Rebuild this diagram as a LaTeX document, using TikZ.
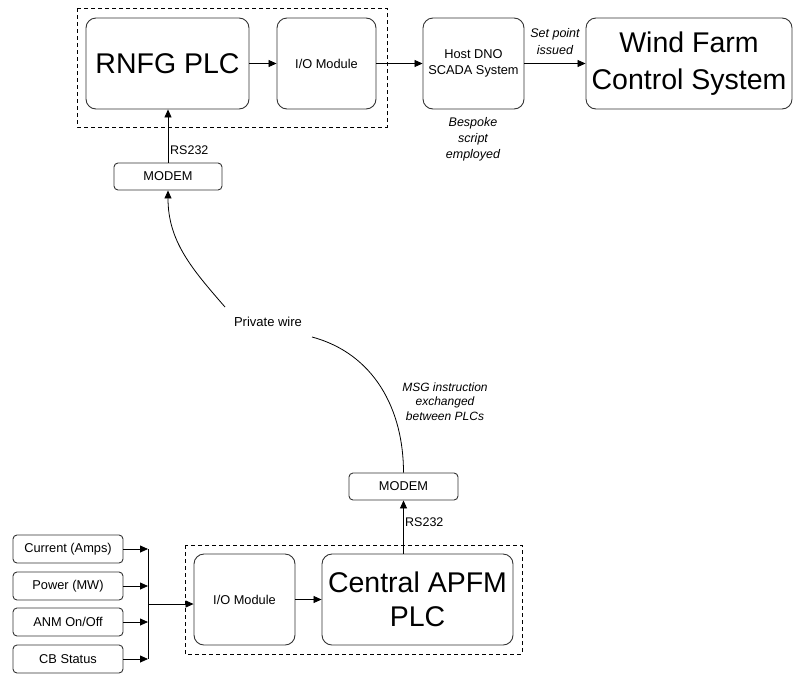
\documentclass[tikz,border=0pt]{standalone}
\usepackage{fontspec}
\setmainfont{Liberation Sans}
\usetikzlibrary{arrows.meta}

\tikzset{
  box/.style={draw=black!80, line width=0.9pt, rounded corners=10pt, align=center,
    inner sep=2pt, font=\fontsize{12.8}{16}\selectfont},
  bigbox/.style={box, font=\fontsize{28.5}{37}\selectfont},
  smallbox/.style={box, rounded corners=4pt, minimum height=27pt},
  group/.style={draw=black, line width=0.8pt, dash pattern=on 4pt off 3pt},
  link/.style={draw=black, line width=0.8pt, -{Triangle[length=8pt,width=7pt]}},
  plain/.style={draw=black, line width=0.8pt},
  lbl/.style={font=\fontsize{12.5}{16}\selectfont, align=center, inner sep=0pt},
  ilbl/.style={lbl, font=\fontsize{12.5}{16}\selectfont\itshape},
}

\begin{document}
\begin{tikzpicture}[x=1pt, y=-1pt]
\useasboundingbox (0,0) rectangle (794,675);

% ---------- upper group: RNFG controller ----------
\draw[group] (77,8) rectangle (387,127);
\node[bigbox, minimum width=163pt, minimum height=91pt] (rnfg) at (167.5,63.5) {RNFG PLC};
\node[box, minimum width=99pt, minimum height=91pt] (io1) at (326.5,63.5) {I/O Module};
\node[box, minimum width=101pt, minimum height=91pt] (host) at (473.5,63.5) {Host DNO\\SCADA System};
\node[bigbox, minimum width=206pt, minimum height=91pt] (wf) at (689,63.5) {Wind Farm\\Control System};

\draw[link] (rnfg) -- (io1);
\draw[link] (io1) -- (host);
\draw[link] (host) -- (wf);

\node[ilbl, font=\fontsize{12.5}{17}\selectfont\itshape] (setpt) at (555,41.5) {Set point\\issued};
\node[ilbl] (bespoke) at (473,139) {Bespoke\\script\\employed};

% ---------- upper modem ----------
\node[smallbox, minimum width=108pt] (tmodem) at (168,176.5) {MODEM};
\draw[link] (tmodem.north) -- (tmodem.north |- rnfg.south);
\node[lbl, anchor=west] (rs1) at (170,150) {RS232};

% ---------- private wire ----------
\node[lbl, font=\fontsize{13}{16}\selectfont] (pw) at (268,322) {Private wire};
\coordinate (pwA) at (225,307);
\coordinate (pwB) at (312,337);

\node[ilbl, font=\fontsize{12}{14.5}\selectfont\itshape] (msg) at (445,401.5) {MSG instruction\\exchanged\\between PLCs};

% ---------- lower modem ----------
\node[smallbox, minimum width=109pt] (bmodem) at (403.5,486.5) {MODEM};

\draw[plain] (bmodem.north) to[out=90, in=-15] (pwB);
\draw[link] (pwA) to[out=131, in=-90] (tmodem.south);

% ---------- lower group: central controller ----------
\draw[group] (185,545) rectangle (522,654);
\node[box, minimum width=101pt, minimum height=91pt] (io2) at (244.5,599.5) {I/O Module};
\node[bigbox, font=\fontsize{28.5}{34}\selectfont, minimum width=191pt, minimum height=91pt] (central) at (417.5,599.5) {Central APFM\\PLC};

\draw[link] (io2) -- (central);
\draw[link] (bmodem.south |- central.north) -- (bmodem.south);
\node[lbl, anchor=west] (rs2) at (405,522) {RS232};

% ---------- measured inputs ----------
\node[smallbox, minimum width=110pt, minimum height=28pt] (in1) at (68,549) {Current (Amps)};
\node[smallbox, minimum width=110pt, minimum height=28pt] (in2) at (68,586) {Power (MW)};
\node[smallbox, minimum width=110pt, minimum height=28pt] (in3) at (68,622) {ANM On/Off};
\node[smallbox, minimum width=110pt, minimum height=28pt] (in4) at (68,659) {CB Status};

\coordinate (busx) at (148,0);
\coordinate (busjoin) at (148,604);
\foreach \n in {in1,in2,in3,in4}
  \draw[link] (\n.east) -- (\n.east -| busx);
\draw[plain] (in1.east -| busx) -- (in4.east -| busx);
\draw[link] (busjoin) -- (busjoin -| io2.west);
\end{tikzpicture}
\end{document}
